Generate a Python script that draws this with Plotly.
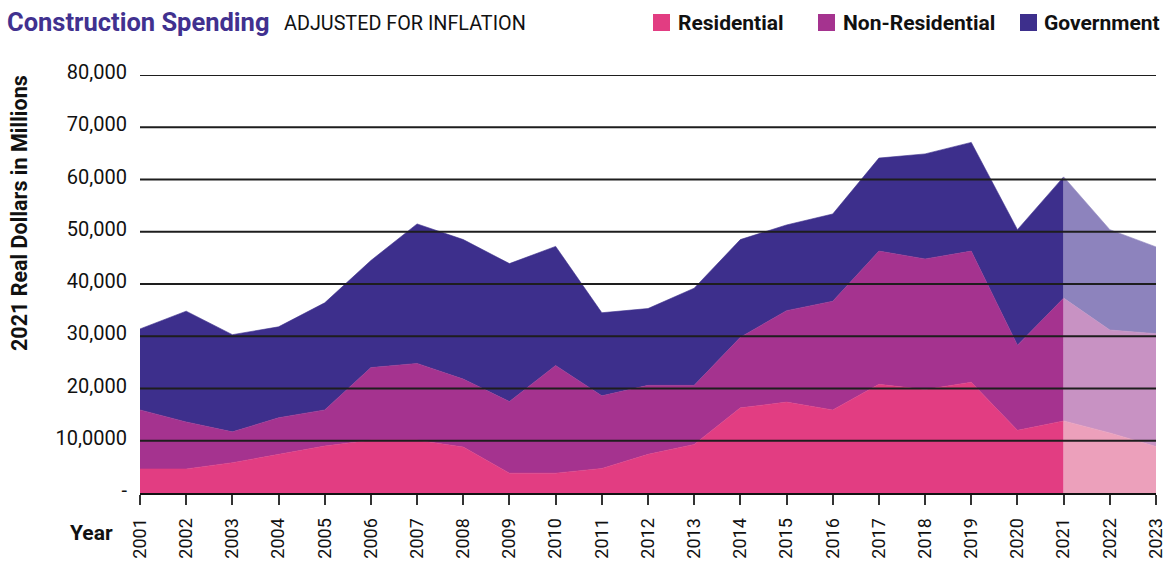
import plotly.graph_objects as go

# ---------------- data (real 2021 dollars, millions) ----------------
years = list(range(2001, 2024))
residential = [4600, 4600, 5800, 7400, 9000, 10100, 10100, 8800, 3800, 3800, 4700, 7400,
               9300, 16300, 17400, 15900, 20800, 19800, 21200, 12000, 13800, 11500, 8900]
non_residential = [11300, 9000, 5900, 7000, 6900, 13900, 14700, 13000, 13700, 20600, 13900, 13200,
                   11300, 13500, 17500, 20800, 25500, 25000, 25100, 16300, 23500, 19700, 21600]
government = [15500, 21200, 18600, 17400, 20500, 20500, 26700, 26700, 26400, 22800, 15900, 14700,
              18600, 18700, 16400, 16700, 17800, 20100, 20800, 22100, 23200, 19200, 16600]
projection_start = 2021

series_names = ["Residential", "Non-Residential", "Government"]
y_tickvals = [0, 10000, 20000, 30000, 40000, 50000, 60000, 70000, 80000]
y_ticktext = ["-", "10,0000", "20,000", "30,000", "40,000", "50,000", "60,000", "70,000", "80,000"]

# ---------------- styles ----------------
dark_colors = ["#E23D82", "#A5338F", "#3D2F8C"]
light_colors = ["#ECA0BB", "#C892C3", "#8D83BD"]
BOLD = "Roboto, Arial, sans-serif"
REG = "Roboto, Arial, sans-serif"

W, H = 1176, 563
ML, MR, MT, MB = 140, 20, 75, 70
PW, PH = W - ML - MR, H - MT - MB


def px_x(x):
    return (x - ML) / PW


def px_y(y):
    return (H - MB - y) / PH


split = years.index(projection_start)
fig = go.Figure()
for name, vals, dc in zip(series_names, [residential, non_residential, government], dark_colors):
    fig.add_trace(go.Scatter(x=years[:split + 1], y=vals[:split + 1], stackgroup="actual",
                             mode="lines", line=dict(width=0.6, color=dc), fillcolor=dc,
                             name=name, showlegend=False, hoverinfo="x+y+name"))
for name, vals, lc in zip(series_names, [residential, non_residential, government], light_colors):
    fig.add_trace(go.Scatter(x=years[split:], y=vals[split:], stackgroup="projected",
                             mode="lines", line=dict(width=0.6, color=lc), fillcolor=lc,
                             name=name + " (projected)", showlegend=False, hoverinfo="x+y+name"))

shapes = []
for v in y_tickvals[1:]:
    shapes.append(dict(type="line", xref="paper", x0=0, x1=1, yref="y", y0=v, y1=v,
                       line=dict(color="#1e1e1e", width=2), layer="above"))

# legend squares + labels
legend_items = [(653, 676), (818, 841), (1020, 1042)]
annotations = []
for (sx, tx), name, c in zip(legend_items, series_names, dark_colors):
    shapes.append(dict(type="rect", xref="paper", yref="paper",
                       x0=px_x(sx), x1=px_x(sx + 17), y0=px_y(31), y1=px_y(14),
                       fillcolor=c, line=dict(width=0)))
    annotations.append(dict(text="<b>" + name + "</b>", xref="paper", yref="paper",
                            x=px_x(tx), y=px_y(23), xanchor="left", yanchor="middle",
                            showarrow=False, font=dict(family=BOLD, size=21, color="#111")))

annotations += [
    dict(text="<b>Construction Spending</b>", xref="paper", yref="paper",
         x=px_x(5), y=px_y(22), xanchor="left", yanchor="middle", showarrow=False,
         font=dict(family=BOLD, size=25.5, color="#41318F")),
    dict(text="ADJUSTED FOR INFLATION", xref="paper", yref="paper",
         x=px_x(282), y=px_y(23), xanchor="left", yanchor="middle", showarrow=False,
         font=dict(family=REG, size=19.8, color="#111")),
    dict(text="<b>2021 Real Dollars in Millions</b>", xref="paper", yref="paper",
         x=px_x(20), y=px_y(213), xanchor="center", yanchor="middle", textangle=-90,
         showarrow=False, font=dict(family=BOLD, size=21.5, color="#111")),
    dict(text="<b>Year</b>", xref="paper", yref="paper",
         x=px_x(91), y=px_y(533), xanchor="center", yanchor="middle",
         showarrow=False, font=dict(family=BOLD, size=21, color="#111")),
]

fig.update_layout(
    width=W, height=H,
    margin=dict(l=ML, r=MR, t=MT, b=MB, pad=0),
    paper_bgcolor="white", plot_bgcolor="white",
    shapes=shapes, annotations=annotations,
    showlegend=False,
    xaxis=dict(range=[years[0], years[-1]], tickvals=years, ticktext=[str(y) for y in years],
               tickangle=-90, ticks="outside", ticklen=10, tickwidth=2, tickcolor="#333",
               showline=True, linecolor="#111", linewidth=2, showgrid=False, zeroline=False,
               ticklabelstandoff=6, automargin=False,
               tickfont=dict(family=REG, size=18, color="#111")),
    yaxis=dict(range=[0, 80000], tickvals=y_tickvals, ticktext=y_ticktext,
               showgrid=False, zeroline=False, showline=False, ticks="",
               ticklabelstandoff=12, ticklabelshift=-3, automargin=False,
               tickfont=dict(family=REG, size=20, color="#111")),
)

fig.write_html("out.html", config={"displayModeBar": False},
               post_script="document.body.style.margin='0';document.body.style.padding='0';")
